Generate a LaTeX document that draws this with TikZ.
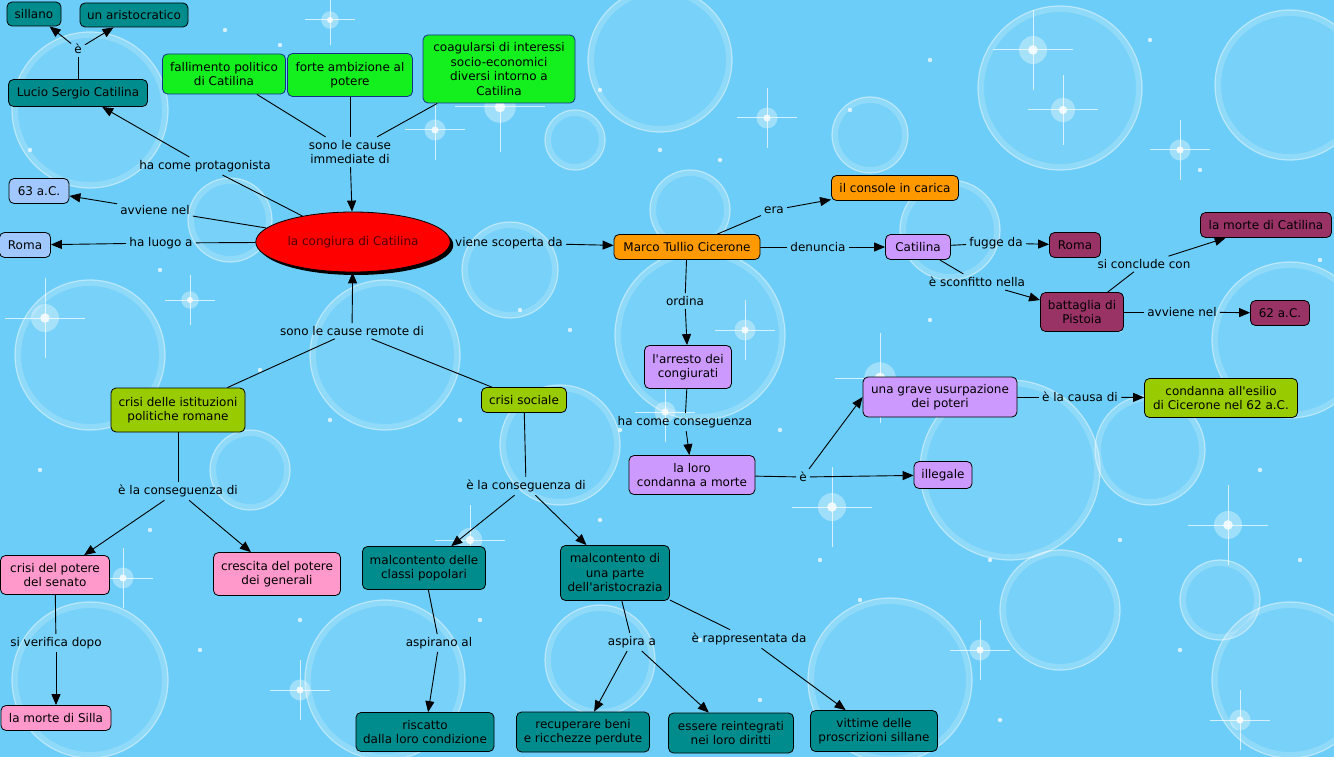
\documentclass[tikz,border=0pt]{standalone}
\usepackage{fontspec}
\setmainfont{DejaVu Sans}
\usetikzlibrary{arrows.meta,shapes.geometric,shadows}
\definecolor{bg}{RGB}{108,206,248}
\definecolor{tealc}{RGB}{0,140,140}
\definecolor{greenc}{RGB}{20,240,30}
\definecolor{greenb}{RGB}{20,50,140}
\definecolor{pale}{RGB}{160,200,255}
\definecolor{orangec}{RGB}{255,153,0}
\definecolor{lilac}{RGB}{204,153,255}
\definecolor{maroon}{RGB}{153,51,102}
\definecolor{olive}{RGB}{153,204,0}
\definecolor{pinkc}{RGB}{255,153,204}
\definecolor{darkred}{RGB}{80,0,0}
\newcommand{\spark}[3]{%
  \fill[white,opacity=0.35] (#1,#2) circle (#3*0.35pt);
  \fill[white,opacity=0.8] (#1,#2) circle (#3*0.12pt);
  \draw[white,opacity=0.7,line width=1pt] (#1-#3,#2) -- (#1+#3,#2) (#1,#2-#3) -- (#1,#2+#3);
}
\newcommand{\apo}{\textquotesingle}
\begin{document}
\begin{tikzpicture}[x=1pt,y=-1pt,
  font=\fontsize{12}{14.5}\selectfont,
  box/.style={draw=black,rounded corners=5pt,line width=0.8pt,align=center,inner sep=1pt},
  tealbox/.style={box,fill=tealc},
  grbox/.style={box,fill=greenc,draw=greenb},
  palebox/.style={box,fill=pale},
  orbox/.style={box,fill=orangec},
  lilbox/.style={box,fill=lilac},
  marbox/.style={box,fill=maroon},
  olbox/.style={box,fill=olive},
  pkbox/.style={box,fill=pinkc},
  lab/.style={align=center,inner sep=3pt},
  ln/.style={line width=0.9pt},
  arr/.style={line width=0.9pt,-{Triangle[length=11pt,width=9pt]}}
]
\useasboundingbox (0,0) rectangle (1334,757);
\fill[bg] (0,0) rectangle (1334,757);
% background bubbles
\foreach \x/\y/\r in {90/110/78,660/60/72,1060/88/82,1290/85/75,870/135/38,575/140/30,
  230/220/42,510/270/48,690/210/40,90/355/75,385/355/75,700/335/85,1290/340/78,
  1010/470/90,560/445/60,1150/450/55,90/680/78,385/680/80,890/680/82,1290/680/78,
  600/660/55,1060/610/60,250/470/40,950/230/50,1220/600/40}{
  \fill[white,opacity=0.08] (\x,\y) circle (\r pt);
  \draw[white,opacity=0.18,line width=6pt] (\x,\y) circle (\r pt-3pt);
  \draw[white,opacity=0.45,line width=1.2pt] (\x,\y) circle (\r pt);
}
\foreach \x/\y/\s in {500/107/45,1033/50/40,1063/110/35,767/118/30,45/318/40,435/130/30,
  745/330/30,880/378/45,665/412/30,470/540/35,1228/525/40,832/507/40,123/578/30,
  1060/805/40,1240/720/30,330/20/25,190/300/25,1180/150/30,980/650/30,300/690/30}{
  \spark{\x}{\y}{\s}
}
\foreach \x/\y in {225/30,280/45,600/90,660/150,720/160,850/110,930/60,1150/40,1200/170,
  30/150,160/270,260/370,330/420,460/420,520/310,570/330,620/430,780/430,820/560,
  990/560,1120/540,1260/470,150/530,40/470,200/650,300/620,480/620,700/640,760/700,
  1000/720,1180/650,1300/560,1120/330,930/320,600/520,860/600,1320/260}{
  \fill[white,opacity=0.7] (\x,\y) circle (2.2pt);
}
% nodes
\node[tealbox,minimum width=54pt,minimum height=24pt] (sillano) at (34,14) {sillano};
\node[tealbox,minimum width=108pt,minimum height=24pt] (aristo) at (134,15) {un aristocratico};
\node[tealbox,minimum width=139pt,minimum height=27pt] (lucio) at (78,93) {Lucio Sergio Catilina};
\node[grbox,minimum width=123pt,minimum height=40pt] (fall) at (224,74) {fallimento politico\\di Catilina};
\node[grbox,minimum width=125pt,minimum height=43pt] (forte) at (350,75) {forte ambizione al\\potere};
\node[grbox,minimum width=152pt,minimum height=68pt] (coag) at (499,69) {coagularsi di interessi\\socio-economici\\diversi intorno a\\Catilina};
\node[palebox,minimum width=60pt,minimum height=25pt] (a63) at (39,191) {63 a.C.};
\node[palebox,minimum width=51pt,minimum height=25pt] (romaL) at (25,245) {Roma};
\node[ellipse,draw=black,line width=0.8pt,fill=red,minimum width=155pt,minimum height=60pt,
  text=darkred,drop shadow={shadow xshift=3pt,shadow yshift=-3pt,fill=black,opacity=1}] (cong) at (353,242) {la congiura di Catilina};
\node[orbox,minimum width=146pt,minimum height=25pt] (marco) at (687,247) {Marco Tullio Cicerone};
\node[orbox,minimum width=127pt,minimum height=25pt] (console) at (895,188) {il console in carica};
\node[lilbox,minimum width=65pt,minimum height=25pt] (catil) at (918,247) {Catilina};
\node[marbox,minimum width=51pt,minimum height=25pt] (romaR) at (1075,245) {Roma};
\node[marbox,minimum width=131pt,minimum height=25pt] (morte) at (1266,225) {la morte di Catilina};
\node[marbox,minimum width=83pt,minimum height=39pt] (batt) at (1082,312) {battaglia di\\Pistoia};
\node[marbox,minimum width=59pt,minimum height=25pt] (a62) at (1280,313) {62 a.C.};
\node[lilbox,minimum width=87pt,minimum height=43pt] (arresto) at (688,367) {l\apo arresto dei\\congiurati};
\node[lilbox,minimum width=126pt,minimum height=39pt] (condm) at (692,475) {la loro\\condanna a morte};
\node[lilbox,minimum width=154pt,minimum height=40pt] (usurp) at (940,397) {una grave usurpazione\\dei poteri};
\node[olbox,minimum width=153pt,minimum height=39pt] (esilio) at (1221,398) {condanna all\apo esilio\\di Cicerone nel 62 a.C.};
\node[lilbox,minimum width=58pt,minimum height=27pt] (illeg) at (943,475) {illegale};
\node[olbox,minimum width=134pt,minimum height=44pt] (cist) at (178,410) {crisi delle istituzioni\\politiche romane};
\node[olbox,minimum width=85pt,minimum height=25pt] (csoc) at (524,400) {crisi sociale};
\node[pkbox,minimum width=109pt,minimum height=39pt] (cpot) at (55,575) {crisi del potere\\del senato};
\node[pkbox,minimum width=127pt,minimum height=43pt] (cresc) at (277,574) {crescita del potere\\dei generali};
\node[pkbox,minimum width=110pt,minimum height=25pt] (silla) at (56,718) {la morte di Silla};
\node[tealbox,minimum width=123pt,minimum height=43pt] (popol) at (424,568) {malcontento delle\\classi popolari};
\node[tealbox,minimum width=109pt,minimum height=55pt] (aristocr) at (615,573) {malcontento di\\una parte\\dell\apo aristocrazia};
\node[tealbox,minimum width=138pt,minimum height=39pt] (riscatto) at (425,732) {riscatto\\dalla loro condizione};
\node[tealbox,minimum width=133pt,minimum height=40pt] (recup) at (583,732) {recuperare beni\\e ricchezze perdute};
\node[tealbox,minimum width=125pt,minimum height=40pt] (reint) at (731,733) {essere reintegrati\\nei loro diritti};
\node[tealbox,minimum width=127pt,minimum height=41pt] (vitt) at (874,731) {vittime delle\\proscrizioni sillane};
% link labels
\node[lab] (l1) at (78,49) {è};
\node[lab] (l2) at (205,166) {ha come protagonista};
\node[lab] (l3) at (350,152) {sono le cause\\immediate di};
\node[lab] (l4) at (155,210) {avviene nel};
\node[lab] (l5) at (161,243) {ha luogo a};
\node[lab] (l6) at (509,243) {viene scoperta da};
\node[lab] (l7) at (774,210) {era};
\node[lab] (l8) at (818,247) {denuncia};
\node[lab] (l9) at (685,301) {ordina};
\node[lab] (l10) at (996,243) {fugge da};
\node[lab] (l11) at (977,282) {è sconfitto nella};
\node[lab] (l12) at (1144,264) {si conclude con};
\node[lab] (l13) at (1182,312) {avviene nel};
\node[lab] (l14) at (685,422) {ha come conseguenza};
\node[lab] (l15) at (803,477) {è};
\node[lab] (l16) at (1080,397) {è la causa di};
\node[lab] (l17) at (352,331) {sono le cause remote di};
\node[lab] (l18) at (178,491) {è la conseguenza di};
\node[lab] (l19) at (526,486) {è la conseguenza di};
\node[lab] (l20) at (56,643) {si verifica dopo};
\node[lab] (l21) at (439,643) {aspirano al};
\node[lab] (l22) at (632,642) {aspira a};
\node[lab] (l23) at (749,639) {è rappresentata da};
% connectors
\draw[ln] (lucio) -- (l1);
\draw[arr] (l1) -- (sillano);
\draw[arr] (l1) -- (aristo);
\draw[ln] (cong) -- (l2);
\draw[arr] (l2) -- (lucio);
\draw[ln] (fall) -- (l3);
\draw[ln] (forte) -- (l3);
\draw[ln] (coag) -- (l3);
\draw[arr] (l3) -- (cong);
\draw[ln] (cong) -- (l4);
\draw[arr] (l4) -- (a63);
\draw[ln] (cong) -- (l5);
\draw[arr] (l5) -- (romaL);
\draw[ln] (cong) -- (l6);
\draw[arr] (l6) -- (marco);
\draw[ln] (marco) -- (l7);
\draw[arr] (l7) -- (console);
\draw[ln] (marco) -- (l8);
\draw[arr] (l8) -- (catil);
\draw[ln] (marco) -- (l9);
\draw[arr] (l9) -- (arresto);
\draw[ln] (catil) -- (l10);
\draw[arr] (l10) -- (romaR);
\draw[ln] (catil) -- (l11);
\draw[arr] (l11) -- (batt);
\draw[ln] (batt) -- (l12);
\draw[arr] (l12) -- (morte);
\draw[ln] (batt) -- (l13);
\draw[arr] (l13) -- (a62);
\draw[ln] (arresto) -- (l14);
\draw[arr] (l14) -- (condm);
\draw[ln] (condm) -- (l15);
\draw[arr] (l15) -- (illeg);
\draw[arr] (l15) -- (usurp.west);
\draw[ln] (usurp) -- (l16);
\draw[arr] (l16) -- (esilio);
\draw[ln] (cist) -- (l17);
\draw[ln] (csoc) -- (l17);
\draw[arr] (l17) -- (cong);
\draw[ln] (cist) -- (l18);
\draw[arr] (l18) -- (cpot);
\draw[arr] (l18) -- (cresc);
\draw[ln] (csoc) -- (l19);
\draw[arr] (l19) -- (popol);
\draw[arr] (l19) -- (aristocr);
\draw[ln] (cpot) -- (l20);
\draw[arr] (l20) -- (silla);
\draw[ln] (popol) -- (l21);
\draw[arr] (l21) -- (riscatto);
\draw[ln] (aristocr) -- (l22);
\draw[arr] (l22) -- (recup);
\draw[arr] (l22) -- (reint);
\draw[ln] (aristocr) -- (l23);
\draw[arr] (l23) -- (vitt);
\end{tikzpicture}
\end{document}
